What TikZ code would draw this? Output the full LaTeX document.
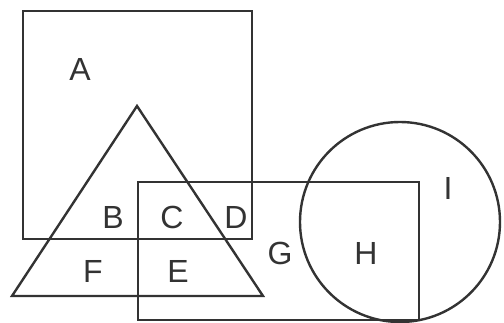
\documentclass[tikz,border=0pt]{standalone}
\usepackage{fontspec}
\setmainfont{Liberation Sans}
\begin{document}
\begin{tikzpicture}[x=1pt,y=-1pt,
  shapeline/.style={draw=black!80, line width=2.4pt, line join=miter},
  lab/.style={font=\fontsize{32}{32}\selectfont, text=black!80, inner sep=0pt}]
\useasboundingbox (0,0) rectangle (504,322);
\begin{scope}
\clip (0,0) rectangle (504,322);
\draw[shapeline] (23,11) rectangle (252,239);
\draw[shapeline] (137,106) -- (263,296) -- (12,296) -- cycle;
\draw[shapeline] (138,182) rectangle (419,320);
\draw[shapeline] (400,222) circle[radius=100];
\end{scope}
\node[lab] (A) at (80,69) {A};
\node[lab] (B) at (113,217) {B};
\node[lab] (C) at (172,217) {C};
\node[lab] (D) at (236,217) {D};
\node[lab] (F) at (93,271) {F};
\node[lab] (E) at (178,271) {E};
\node[lab] (G) at (280,253) {G};
\node[lab] (H) at (366,253) {H};
\node[lab] (I) at (448,188) {I};
\end{tikzpicture}
\end{document}
